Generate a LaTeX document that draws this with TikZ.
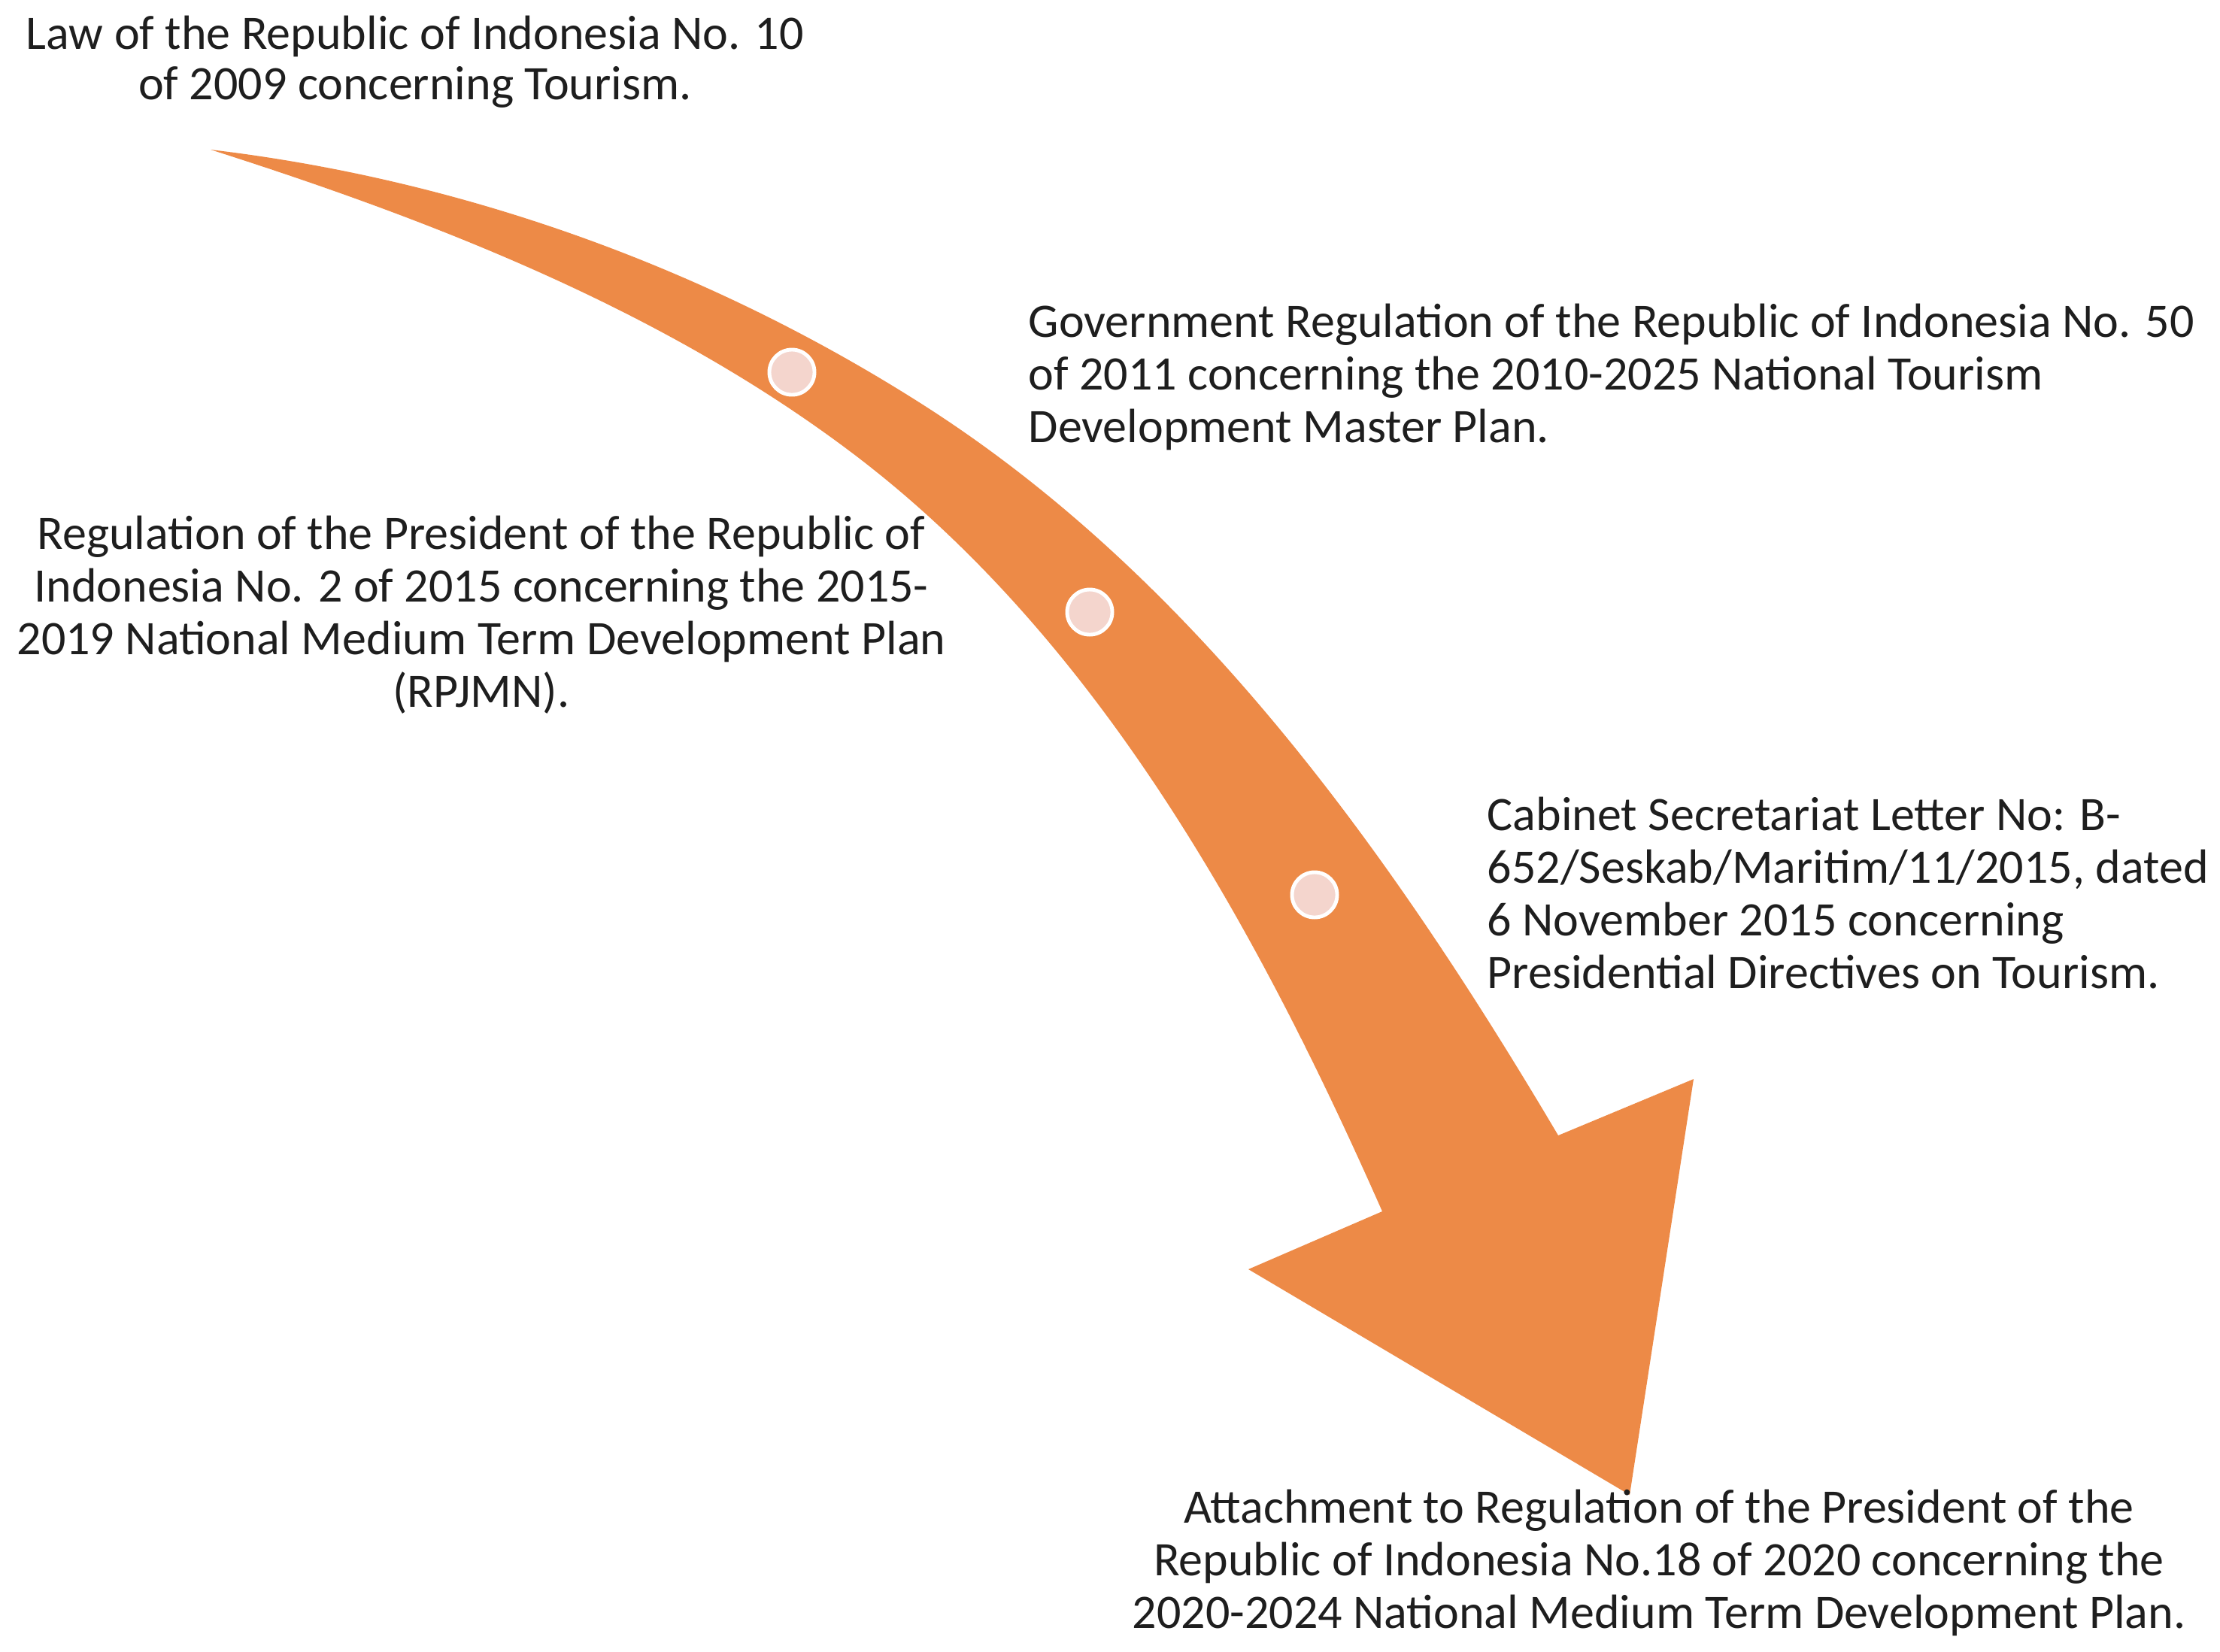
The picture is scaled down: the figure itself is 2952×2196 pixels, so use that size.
\documentclass[tikz,border=0pt]{standalone}
\usepackage{fontspec}
\setmainfont{Carlito}
\definecolor{arroworange}{HTML}{ED8A47}
\definecolor{dotpink}{HTML}{F4D5CD}
\definecolor{txt}{HTML}{1E1E1E}
\begin{document}
\begin{tikzpicture}[x=0.01cm,y=-0.01cm,
  lbl/.style={inner sep=0pt, font=\fontsize{18.2}{19.9}\selectfont, text=txt},
  dot/.style={circle, fill=dotpink, draw=white, line width=1.4pt, minimum size=0.6cm, inner sep=0pt}]
\useasboundingbox (0,0) rectangle (2952,2196);
% curved arrow
\fill[arroworange] (280,199) .. controls (617,239) and (944,357) .. (1230,540)
  .. controls (1592,772) and (1853,1140) .. (2072,1510)
  -- (2252,1435) -- (2167,1988) -- (1660,1688) -- (1838,1611)
  .. controls (1672,1235) and (1459,847) .. (1130,600)
  .. controls (880,412) and (578,294) .. (280,199) -- cycle;
% milestones
\node[dot] (d1) at (1053,495) {};
\node[dot] (d2) at (1449,814) {};
\node[dot] (d3) at (1748,1190) {};
% labels (base anchor = baseline of the last line)
\node[lbl, font=\fontsize{18.2}{18.8}\selectfont, align=center, anchor=base] (t1) at (552,132)
  {Law of the Republic of Indonesia No. 10\\of 2009 concerning Tourism.};
\node[lbl, align=left, anchor=base west] (t2) at (1367,588)
  {Government Regulation of the Republic of Indonesia No. 50\\of 2011 concerning the 2010-2025 National Tourism\\Development Master Plan.};
\node[lbl, align=center, anchor=base] (t3) at (640,940)
  {Regulation of the President of the Republic of\\Indonesia No. 2 of 2015 concerning the 2015-\\2019 National Medium Term Development Plan\\(RPJMN).};
\node[lbl, align=left, anchor=base west] (t4) at (1977,1314)
  {Cabinet Secretariat Letter No: B-\\652/Seskab/Maritim/11/2015, dated\\6 November 2015 concerning\\Presidential Directives on Tourism.};
\node[lbl, align=center, anchor=base] (t5) at (2206,2165)
  {Attachment to Regulation of the President of the\\Republic of Indonesia No.18 of 2020 concerning the\\2020-2024 National Medium Term Development Plan.};
\end{tikzpicture}
\end{document}
